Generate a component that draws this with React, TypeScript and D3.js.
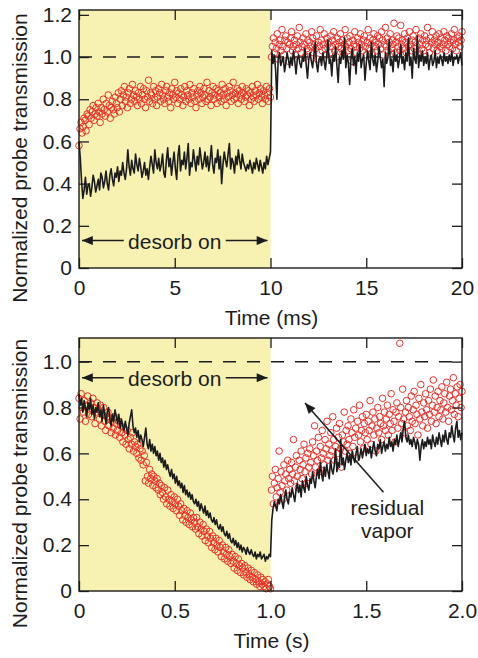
import React, { useEffect, useRef } from "react";
import * as d3 from "d3";

const width = 478;
const height = 658;
const font = "'Liberation Sans', Arial, Helvetica, sans-serif";
const red = "#e8322b";
const ink = "#1c1c1c";
const shade = "#f7f2b2";

// ---- top panel: time in ms, pulse on 0-10 ms ----
const topXTicks = [0, 5, 10, 15, 20];
const topYTicks = [0, 0.2, 0.4, 0.6, 0.8, 1.0, 1.2];

const topLineOn = [
  0.6, 0.52, 0.41, 0.33, 0.37, 0.43, 0.35, 0.39, 0.4, 0.34, 0.38, 0.44, 0.41, 0.36, 0.39, 0.42, 0.37, 0.45, 0.43, 0.38,
  0.41, 0.46, 0.4, 0.37, 0.44, 0.47, 0.42, 0.39, 0.45, 0.43, 0.48, 0.41, 0.46, 0.44, 0.5, 0.45, 0.42, 0.47, 0.56, 0.48,
  0.44, 0.51, 0.47, 0.45, 0.54, 0.49, 0.46, 0.52, 0.48, 0.43, 0.46, 0.5, 0.44, 0.47, 0.42, 0.48, 0.53, 0.49, 0.45, 0.56,
  0.5, 0.47, 0.52, 0.46, 0.49, 0.54, 0.45, 0.43, 0.51, 0.57, 0.48, 0.52, 0.44, 0.5, 0.55, 0.47, 0.42, 0.53, 0.58, 0.46,
  0.51, 0.49, 0.55, 0.47, 0.52, 0.59, 0.44, 0.5, 0.48, 0.56, 0.51, 0.46, 0.53, 0.49, 0.57, 0.52, 0.47, 0.5, 0.55, 0.48,
  0.53, 0.46, 0.51, 0.58, 0.49, 0.45, 0.52, 0.5, 0.56, 0.47, 0.53, 0.4, 0.49, 0.55, 0.51, 0.48, 0.54, 0.59, 0.47, 0.52,
  0.5, 0.45, 0.53, 0.49, 0.56, 0.51, 0.47, 0.54, 0.5, 0.48, 0.46, 0.49, 0.47, 0.51, 0.48, 0.45, 0.5, 0.47, 0.52, 0.49,
  0.46, 0.51, 0.48, 0.45, 0.5, 0.47, 0.53, 0.49, 0.52, 0.55,
];
const topLineOff = [
  1.03, 0.97, 1.01, 0.94, 0.8, 0.99, 1.02, 0.96, 0.98, 1.0, 0.93, 0.97, 1.02, 0.99, 0.95, 1.0, 0.96, 1.03, 0.98, 0.92,
  0.99, 1.01, 0.97, 0.95, 1.0, 0.98, 1.04, 0.96, 0.9, 0.99, 1.02, 0.98, 0.95, 1.01, 1.07, 0.97, 0.93, 0.99, 1.0, 0.96,
  1.02, 0.98, 0.94, 1.0, 1.08, 0.97, 0.99, 0.91, 1.01, 0.98, 1.05, 0.96, 0.88, 1.0, 0.97, 1.03, 0.99, 1.09, 0.95, 1.01,
  0.97, 0.87, 0.99, 1.04, 0.96, 1.0, 0.92, 1.02, 0.98, 1.06, 0.95, 0.99, 1.01, 0.89, 0.97, 1.03, 0.98, 0.94, 1.07, 0.99,
  0.96, 1.01, 0.93, 0.98, 1.05, 1.0, 0.95, 0.99, 0.86, 1.02, 0.97, 1.0, 1.08, 0.96, 0.99, 0.93, 1.03, 0.98, 1.01, 0.95,
  0.99, 1.06, 0.97, 1.0, 0.94, 1.02, 0.98, 1.09, 0.96, 1.0, 0.9, 1.04, 0.99, 0.97, 1.1, 0.95, 1.01, 0.98, 1.03, 0.96,
  1.0, 0.97, 1.02, 0.94, 0.99, 1.01, 0.96, 0.98, 1.03, 0.95, 1.0, 0.97, 1.01, 0.99, 0.96, 1.02, 0.98, 1.0, 0.97, 1.01,
  0.98, 1.03, 0.96, 1.0, 0.99, 1.01, 0.97, 1.0, 1.02, 0.96,
];
const topDotsOn = [
  0.58, 0.66, 0.69, 0.64, 0.67, 0.71, 0.7, 0.65, 0.73, 0.72, 0.68, 0.75, 0.71, 0.74, 0.77, 0.7, 0.73, 0.76, 0.72, 0.78,
  0.74, 0.69, 0.76, 0.73, 0.8, 0.75, 0.72, 0.78, 0.74, 0.82, 0.77, 0.71, 0.76, 0.79, 0.75, 0.73, 0.81, 0.78, 0.76, 0.83,
  0.74, 0.8, 0.84, 0.77, 0.82, 0.86, 0.79, 0.81, 0.76, 0.83, 0.85, 0.78, 0.8, 0.87, 0.82, 0.79, 0.84, 0.81, 0.77, 0.83,
  0.8, 0.86, 0.78, 0.82, 0.85, 0.8, 0.76, 0.84, 0.81, 0.89, 0.79, 0.83, 0.82, 0.78, 0.86, 0.8, 0.84, 0.77, 0.81, 0.85,
  0.83, 0.79, 0.87, 0.82, 0.8, 0.78, 0.84, 0.86, 0.81, 0.79, 0.83, 0.76, 0.85, 0.82, 0.8, 0.88, 0.81, 0.84, 0.78, 0.83,
  0.8, 0.85, 0.82, 0.77, 0.81, 0.86, 0.79, 0.84, 0.82, 0.8, 0.87, 0.78, 0.83, 0.81, 0.85, 0.79, 0.76, 0.82, 0.84, 0.8,
  0.86, 0.83, 0.78, 0.81, 0.85, 0.82, 0.79, 0.88, 0.8, 0.84, 0.81, 0.77, 0.83, 0.86, 0.8, 0.82, 0.85, 0.78, 0.84, 0.81,
  0.83, 0.79, 0.87, 0.82, 0.8, 0.85, 0.77, 0.83, 0.81, 0.86, 0.84, 0.79, 0.82, 0.88, 0.8, 0.83, 0.81, 0.85, 0.78, 0.84,
  0.82, 0.8, 0.86, 0.83, 0.79, 0.81, 0.85, 0.82, 0.84, 0.77, 0.83, 0.8, 0.86, 0.81, 0.79, 0.84, 0.82, 0.87, 0.8, 0.83,
  0.85, 0.81, 0.78, 0.84, 0.82, 0.8, 0.86, 0.83, 0.79, 0.85, 0.81,
];
const topDotsOff = [
  1.0, 1.05, 1.09, 1.02, 1.07, 1.04, 1.11, 0.99, 1.06, 1.08, 1.03, 1.13, 1.05, 1.01, 1.08, 1.1, 1.04, 1.07, 0.98, 1.06,
  1.09, 1.12, 1.03, 1.05, 1.08, 1.01, 1.06, 1.1, 1.04, 1.14, 1.07, 1.02, 1.05, 1.09, 1.06, 1.0, 1.11, 1.04, 1.08, 1.03,
  1.07, 1.05, 1.12, 1.09, 1.02, 1.06, 1.04, 1.1, 0.99, 1.07, 1.05, 1.13, 1.08, 1.03, 1.06, 1.11, 1.04, 1.01, 1.09, 1.06,
  1.07, 1.02, 1.1, 1.05, 1.08, 1.12, 1.03, 1.06, 1.0, 1.09, 1.05, 1.07, 1.11, 1.04, 1.08, 1.02, 1.06, 1.13, 1.05, 1.09,
  1.03, 1.07, 1.1, 1.04, 0.98, 1.08, 1.06, 1.12, 1.05, 1.02, 1.09, 1.07, 1.04, 1.11, 1.06, 1.03, 1.08, 1.1, 1.05, 1.01,
  1.07, 1.13, 1.04, 1.09, 1.06, 1.02, 1.08, 1.11, 1.05, 1.07, 1.03, 1.1, 1.06, 1.09, 1.04, 1.12, 1.08, 1.01, 1.06, 1.14,
  1.05, 1.09, 1.03, 1.07, 1.11, 1.04, 1.08, 1.06, 1.16, 1.02, 1.07, 1.1, 1.05, 1.09, 1.03, 1.15, 1.06, 1.08, 1.04, 1.11,
  1.07, 1.02, 1.09, 1.05, 1.12, 1.06, 1.03, 1.08, 1.1, 1.04, 1.07, 1.13, 1.05, 1.01, 1.09, 1.06, 1.11, 1.04, 1.08, 1.03,
  1.1, 1.06, 1.08, 1.14, 1.05, 1.02, 1.09, 1.07, 1.12, 1.04, 1.08, 1.06, 1.1, 1.03, 1.07, 1.11, 1.05, 1.09, 1.04, 1.06,
  1.12, 1.08, 1.03, 1.1, 1.06, 1.09, 1.05, 1.07, 1.11, 1.04, 1.08, 1.13, 1.06, 1.03, 1.09, 1.07, 1.1, 1.05, 1.08, 1.12,
];

// ---- bottom panel: time in s, pulse on 0-1 s ----
const bottomXTicks = [0, 0.5, 1.0, 1.5, 2.0];
const bottomYTicks = [0, 0.2, 0.4, 0.6, 0.8, 1.0];

const bottomLineOn = [
  0.86, 0.81, 0.84, 0.78, 0.83, 0.8, 0.76, 0.82, 0.79, 0.84, 0.77, 0.81, 0.75, 0.8, 0.78,
  0.82, 0.76, 0.79, 0.74, 0.81, 0.77, 0.73, 0.78, 0.8, 0.75, 0.72, 0.77, 0.74, 0.79, 0.76,
  0.73, 0.77, 0.71, 0.75, 0.72, 0.7, 0.74, 0.71, 0.68, 0.73, 0.76, 0.79, 0.72, 0.69, 0.71,
  0.67, 0.7, 0.65, 0.68, 0.66, 0.63, 0.67, 0.71, 0.64, 0.62, 0.66, 0.61, 0.64, 0.6, 0.63,
  0.59, 0.61, 0.57, 0.6, 0.56, 0.58, 0.54, 0.57, 0.53, 0.55, 0.52, 0.5, 0.53, 0.49, 0.51,
  0.47, 0.5, 0.46, 0.48, 0.45, 0.47, 0.43, 0.46, 0.42, 0.44, 0.41, 0.43, 0.4, 0.42, 0.39,
  0.38, 0.4, 0.37, 0.39, 0.35, 0.38, 0.36, 0.34, 0.37, 0.33, 0.35, 0.32, 0.34, 0.31, 0.3,
  0.32, 0.29, 0.31, 0.28, 0.27, 0.29, 0.26, 0.28, 0.25, 0.24, 0.26, 0.23, 0.25, 0.22, 0.21,
  0.23, 0.2, 0.22, 0.19, 0.21, 0.18, 0.2, 0.17, 0.19, 0.18, 0.16, 0.19, 0.17, 0.16, 0.18,
  0.16, 0.15, 0.17, 0.14, 0.16, 0.15, 0.17, 0.14, 0.15, 0.16, 0.13, 0.15, 0.14, 0.16, 0.15,
];
const bottomLineOff = [
  0.31, 0.36, 0.39, 0.37, 0.35, 0.4, 0.38, 0.42, 0.39, 0.36, 0.41, 0.44, 0.4, 0.38, 0.43, 0.41,
  0.45, 0.42, 0.39, 0.44, 0.47, 0.43, 0.46, 0.41, 0.48, 0.45, 0.43, 0.5, 0.46, 0.44, 0.49,
  0.47, 0.52, 0.48, 0.45, 0.5, 0.53, 0.49, 0.56, 0.51, 0.48, 0.54, 0.5, 0.55, 0.52, 0.49,
  0.57, 0.53, 0.51, 0.55, 0.62, 0.52, 0.56, 0.54, 0.66, 0.55, 0.58, 0.53, 0.57, 0.6, 0.56,
  0.59, 0.55, 0.61, 0.58, 0.56, 0.6, 0.63, 0.57, 0.59, 0.62, 0.58, 0.61, 0.64, 0.59, 0.62,
  0.6, 0.63, 0.58, 0.62, 0.65, 0.61, 0.59, 0.64, 0.62, 0.66, 0.6, 0.63, 0.65, 0.61, 0.64,
  0.62, 0.67, 0.63, 0.65, 0.61, 0.66, 0.64, 0.68, 0.63, 0.66, 0.69, 0.65, 0.71, 0.74, 0.67,
  0.65, 0.68, 0.64, 0.66, 0.63, 0.67, 0.65, 0.62, 0.66, 0.64, 0.57, 0.63, 0.66, 0.62, 0.65,
  0.63, 0.67, 0.64, 0.66, 0.62, 0.68, 0.65, 0.63, 0.67, 0.64, 0.69, 0.66, 0.63, 0.68, 0.65,
  0.7, 0.66, 0.64, 0.69, 0.67, 0.72, 0.68, 0.65, 0.71, 0.74, 0.67, 0.7, 0.66, 0.69,
];
const bottomDotsOn = [
  0.84, 0.75, 0.86, 0.8, 0.78, 0.83, 0.74, 0.81, 0.85, 0.77, 0.79, 0.82, 0.76, 0.84, 0.8, 0.73, 0.78, 0.82,
  0.79, 0.75, 0.81, 0.72, 0.77, 0.8, 0.74, 0.7, 0.76, 0.78, 0.72, 0.75, 0.69, 0.74, 0.71, 0.76, 0.68, 0.73,
  0.7, 0.74, 0.67, 0.72, 0.69, 0.65, 0.71, 0.68, 0.64, 0.7, 0.66, 0.62, 0.67, 0.64, 0.69, 0.61, 0.65, 0.63,
  0.6, 0.64, 0.58, 0.62, 0.57, 0.61, 0.55, 0.59, 0.48, 0.56, 0.5, 0.47, 0.53, 0.49, 0.51, 0.46, 0.5, 0.48,
  0.45, 0.49, 0.44, 0.47, 0.42, 0.46, 0.43, 0.4, 0.45, 0.41, 0.38, 0.44, 0.4, 0.37, 0.42, 0.39, 0.36, 0.41,
  0.38, 0.35, 0.4, 0.37, 0.33, 0.38, 0.35, 0.31, 0.36, 0.33, 0.3, 0.35, 0.32, 0.29, 0.34, 0.31, 0.28, 0.32,
  0.3, 0.27, 0.32, 0.28, 0.25, 0.3, 0.27, 0.24, 0.29, 0.26, 0.22, 0.27, 0.24, 0.21, 0.26, 0.23, 0.19, 0.24,
  0.21, 0.18, 0.23, 0.2, 0.17, 0.22, 0.19, 0.15, 0.2, 0.17, 0.14, 0.19, 0.16, 0.13, 0.18, 0.15, 0.12, 0.16,
  0.13, 0.1, 0.15, 0.12, 0.09, 0.14, 0.11, 0.08, 0.12, 0.1, 0.07, 0.11, 0.08, 0.06, 0.1, 0.07, 0.05, 0.09,
  0.06, 0.04, 0.08, 0.05, 0.03, 0.07, 0.04, 0.02, 0.06, 0.03, 0.05, 0.02, 0.04, 0.01, 0.03, 0.05, 0.02, 0.01,
];
const bottomDotsOff = [
  0.44, 0.5, 0.38, 0.47, 0.53, 0.41, 0.45, 0.49, 0.61, 0.43, 0.52, 0.46, 0.4, 0.55, 0.48, 0.51, 0.44, 0.57, 0.49, 0.53,
  0.47, 0.56, 0.51, 0.66, 0.48, 0.54, 0.59, 0.5, 0.45, 0.57, 0.53, 0.61, 0.49, 0.55, 0.64, 0.52, 0.58, 0.47, 0.6, 0.54,
  0.62, 0.56, 0.51, 0.65, 0.59, 0.72, 0.54, 0.61, 0.57, 0.67, 0.52, 0.63, 0.58, 0.7, 0.6, 0.55, 0.66, 0.62, 0.74, 0.57,
  0.64, 0.59, 0.69, 0.61, 0.76, 0.66, 0.57, 0.63, 0.71, 0.6, 0.67, 0.73, 0.62, 0.54, 0.68, 0.65, 0.78, 0.61, 0.7, 0.64,
  0.72, 0.66, 0.6, 0.75, 0.69, 0.63, 0.79, 0.67, 0.71, 0.58, 0.74, 0.68, 0.81, 0.65, 0.7, 0.76, 0.62, 0.73, 0.69, 0.77,
  0.66, 0.74, 0.7, 0.83, 0.64, 0.72, 0.78, 0.68, 0.75, 0.61, 0.71, 0.8, 0.69, 0.76, 0.73, 0.66, 0.84, 0.72, 0.78, 0.7,
  0.75, 0.81, 0.68, 0.77, 0.73, 0.86, 0.7, 0.79, 0.74, 0.65, 0.78, 0.82, 0.71, 0.76, 1.08, 0.8, 0.73, 0.88, 0.75, 0.69,
  0.78, 0.83, 0.72, 0.8, 0.76, 0.7, 0.85, 0.74, 0.79, 0.87, 0.73, 0.81, 0.77, 0.68, 0.84, 0.75, 0.9, 0.78, 0.72, 0.82,
  0.76, 0.86, 0.79, 0.71, 0.83, 0.77, 0.88, 0.74, 0.81, 0.92, 0.78, 0.85, 0.73, 0.8, 0.87, 0.76, 0.83, 0.79, 0.89, 0.75,
  0.82, 0.86, 0.78, 0.91, 0.8, 0.74, 0.85, 0.88, 0.79, 0.83, 0.93, 0.77, 0.86, 0.81, 0.89, 0.76, 0.84, 0.9, 0.8, 0.87,
];

type Pt = [number, number];

// samples are evenly spaced: "on" runs t0..t1, "off" continues after t1 up to t2
function series(on: number[], off: number[], t0: number, t1: number, t2: number): Pt[] {
  const a: Pt[] = on.map((v, i) => [t0 + (i * (t1 - t0)) / (on.length - 1), v]);
  const b: Pt[] = off.map((v, i) => [t1 + ((i + 1) * (t2 - t1)) / off.length, v]);
  return a.concat(b);
}

function Panel(props: any) {
  const { top, bottom, left, right, xMax, yMax, xTicks, yTicks, xFmt, xLabel, line, dots, pulseEnd, desorbY, children } = props;
  const xRef = useRef<SVGGElement>(null);
  const yRef = useRef<SVGGElement>(null);
  const x2Ref = useRef<SVGGElement>(null);
  const y2Ref = useRef<SVGGElement>(null);

  const x = d3.scaleLinear().domain([0, xMax]).range([left, right]);
  const y = d3.scaleLinear().domain([0, yMax]).range([bottom, top]);
  const yFmt = (d: number) => (d === 0 ? "0" : d3.format(".1f")(d));

  useEffect(() => {
    const style = (g: any) => {
      g.select(".domain").remove();
      g.attr("font-size", 21).attr("font-family", font);
      g.selectAll("line").attr("stroke", ink).attr("stroke-width", 1.3);
      g.selectAll("text").attr("fill", ink);
    };
    d3.select(xRef.current).call(d3.axisBottom(x).tickValues(xTicks).tickFormat(xFmt).tickSize(-10).tickPadding(12) as any).call(style);
    d3.select(yRef.current).call(d3.axisLeft(y).tickValues(yTicks).tickFormat(yFmt as any).tickSize(-10).tickPadding(7) as any).call(style);
    d3.select(x2Ref.current).call(d3.axisTop(x).tickValues(xTicks).tickFormat(() => "").tickSize(-10) as any).call(style);
    d3.select(y2Ref.current).call(d3.axisRight(y).tickValues(yTicks).tickFormat(() => "").tickSize(-10) as any).call(style);
  });

  const path = d3
    .line<Pt>()
    .x((d) => x(d[0]))
    .y((d) => y(d[1]));

  const cx = x(xMax / 4);
  const ay = y(desorbY);

  return (
    <g>
      <rect x={left} y={top} width={x(pulseEnd) - left} height={bottom - top} fill={shade} />
      <line x1={left} x2={right} y1={y(1)} y2={y(1)} stroke={ink} strokeWidth={1.5} strokeDasharray="13,11" />
      {dots.map((d: Pt, i: number) => (
        <circle key={i} cx={x(d[0])} cy={y(d[1])} r={3.3} fill="none" stroke={red} strokeWidth={1} />
      ))}
      <path d={path(line) || ""} fill="none" stroke={ink} strokeWidth={1.6} strokeLinejoin="round" />
      <line x1={cx - 51} x2={left + 3} y1={ay} y2={ay} stroke={ink} strokeWidth={1.5} markerEnd="url(#head)" />
      <line x1={cx + 51} x2={x(pulseEnd) - 3} y1={ay} y2={ay} stroke={ink} strokeWidth={1.5} markerEnd="url(#head)" />
      <text x={cx} y={ay + 8} textAnchor="middle" fontSize={21} fontFamily={font} fill={ink}>
        desorb on
      </text>
      {children && children(x, y)}
      <g ref={xRef} transform={`translate(0,${bottom})`} />
      <g ref={yRef} transform={`translate(${left},0)`} />
      <g ref={x2Ref} transform={`translate(0,${top})`} />
      <g ref={y2Ref} transform={`translate(${right},0)`} />
      <rect x={left} y={top} width={right - left} height={bottom - top} fill="none" stroke={ink} strokeWidth={1.4} />
      <text x={(left + right) / 2 + 1} y={bottom + 57} textAnchor="middle" fontSize={21} fontFamily={font} fill={ink}>
        {xLabel}
      </text>
      <text
        transform={`translate(27,${(top + bottom) / 2 + 19}) rotate(-90)`}
        textAnchor="middle"
        fontSize={21}
        fontFamily={font}
        fill={ink}
      >
        Normalized probe transmission
      </text>
    </g>
  );
}

export default function App() {
  const topLine = series(topLineOn, topLineOff, 0, 10, 20);
  const topDots = series(topDotsOn, topDotsOff, 0, 10, 20);
  const bottomLine = series(bottomLineOn, bottomLineOff, 0, 1, 2);
  const bottomDots = series(bottomDotsOn, bottomDotsOff, 0, 1, 2);

  return (
    <svg width={width} height={height} style={{ position: "absolute", left: 0, top: 0, background: "#fff" }}>
      <defs>
        <marker id="head" viewBox="0 0 12 10" refX={12} refY={5} markerWidth={12} markerHeight={9} markerUnits="userSpaceOnUse" orient="auto">
          <path d="M0,0 L12,5 L0,10 z" fill={ink} />
        </marker>
      </defs>
      <Panel
        top={10}
        bottom={268}
        left={79}
        right={462}
        xMax={20}
        yMax={1.223}
        xTicks={topXTicks}
        yTicks={topYTicks}
        xFmt={d3.format("d")}
        xLabel="Time (ms)"
        line={topLine}
        dots={topDots}
        pulseEnd={10}
        desorbY={0.13}
      />
      <Panel
        top={338}
        bottom={591}
        left={79}
        right={462}
        xMax={2}
        yMax={1.103}
        xTicks={bottomXTicks}
        yTicks={bottomYTicks}
        xFmt={(d: number) => (d === 0 ? "0" : d3.format(".1f")(d))}
        xLabel="Time (s)"
        line={bottomLine}
        dots={bottomDots}
        pulseEnd={1}
        desorbY={0.93}
      >
        {(x: any, y: any) => (
          <g>
            <line x1={x(1.59)} y1={y(0.43)} x2={x(1.18)} y2={y(0.82)} stroke={ink} strokeWidth={1.5} markerEnd="url(#head)" />
            <text x={x(1.61)} y={y(0.43) + 23} textAnchor="middle" fontSize={21} fontFamily={font} fill={ink}>
              residual
            </text>
            <text x={x(1.61)} y={y(0.43) + 46} textAnchor="middle" fontSize={21} fontFamily={font} fill={ink}>
              vapor
            </text>
          </g>
        )}
      </Panel>
    </svg>
  );
}
